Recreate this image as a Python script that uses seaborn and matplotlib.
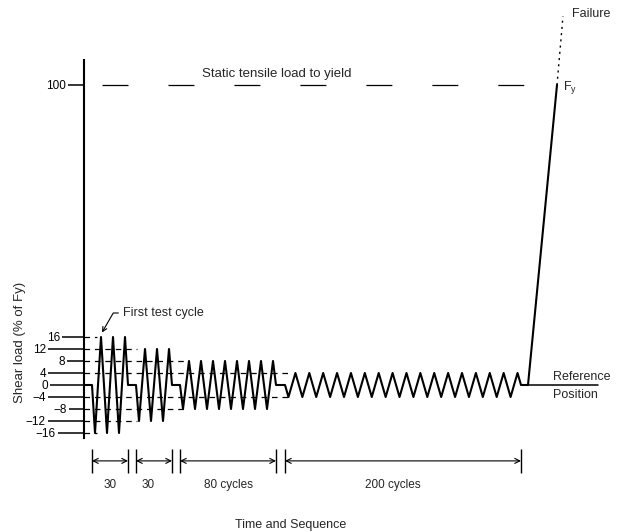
import numpy as np
import pandas as pd
import matplotlib
matplotlib.use("Agg")
import matplotlib.pyplot as plt
import seaborn as sns

# ---- data -------------------------------------------------------------
yticks = [100, 16, 12, 8, 4, 0, -4, -8, -12, -16]
block_amp = [16, 12, 8, 4]               # % of Fy
block_start = [8, 52, 96, 201]            # time units
block_end = [44, 88, 192, 437]
block_cycles_drawn = [3, 3, 8, 17]
block_labels = ["30", "30", "80 cycles", "200 cycles"]
guide_end = [13, 53, 101, 206]            # extent of the dashed guide lines
rise_start = 444
fy_time, fy_level = 473, 100
fail_time, fail_level = 479, 123
reference_end = 514
static_start, static_end = 18, 453
static_level = 100

# ---- styling (not data) -------------------------------------------------
tick_len_px = {100: 16, 16: 22, 12: 36, 8: 17, 4: 36, 0: 34,
               -4: 36, -8: 15, -12: 36, -16: 26}
label_x = [26, 64, 145, 309]

# ---- build the schematic load path -----------------------------------
xs, ys = [0], [0]
for a, s, e, n in zip(block_amp, block_start, block_end, block_cycles_drawn):
    p = (e - s) / n
    xs.append(s); ys.append(0)
    for k in range(n):
        xs += [s + k * p + p / 4, s + k * p + 3 * p / 4]
        ys += [-a, a]
    xs.append(e); ys.append(0)
xs += [rise_start, fy_time]
ys += [0, fy_level]
df = pd.DataFrame({"time": xs, "load": ys})

sns.set_theme(style="white")
plt.rcParams["font.family"] = ["Liberation Sans", "DejaVu Sans"]
plt.rcParams["lines.scale_dashes"] = False
plt.rcParams["mathtext.fontset"] = "custom"
plt.rcParams["mathtext.rm"] = "Liberation Sans"

fig = plt.figure(figsize=(6.21, 5.32), dpi=100)
ax = fig.add_axes([0, 0, 1, 1])
ax.set_xlim(-84, 537)
ax.set_ylim(-49, 128.33)

sns.lineplot(data=df, x="time", y="load", sort=False, estimator=None,
             color="black", lw=1.5, ax=ax)

# reference line and failure extension
ax.plot([rise_start, reference_end], [0, 0], color="black", lw=1.1)
ax.plot([fy_time, fail_time], [fy_level, fail_level], color="black",
        lw=1.0, ls=(0, (1.5, 3)))

# static tensile load line
ax.plot([static_start, static_end], [static_level, static_level],
        color="black", lw=0.9, ls=(0, (18.7, 28.8)))

# dashed guide lines
for a, ge in zip(block_amp, guide_end):
    for lev in (a, -a):
        ax.plot([0, ge], [lev, lev], color="black", lw=0.9, ls=(0, (4, 3.5)))

# spines / ticks
for sp in ["top", "right", "bottom"]:
    ax.spines[sp].set_visible(False)
ax.spines["left"].set_position(("data", 0))
ax.spines["left"].set_bounds(-17.7, 108.3)
ax.spines["left"].set_linewidth(1.5)
ax.spines["left"].set_color("black")
ax.set_xticks([])
ax.set_yticks(yticks)
ax.set_yticklabels([str(t).replace("-", "\u2212") for t in yticks])
ax.tick_params(axis="y", direction="out", length=11, width=1.1,
               labelsize=8.5, pad=2, colors="black", left=True)
for t, tk in zip(yticks, ax.yaxis.get_major_ticks()):
    L = tick_len_px[t] * 0.72
    tk.tick1line.set_markersize(L)
    tk.set_pad(1.5)
    tk.label1.set_x(0)
fig.canvas.draw()
for t, tk in zip(yticks, ax.yaxis.get_major_ticks()):
    L = tick_len_px[t] * 0.72
    tk._apply_params(size=L, pad=1.5)
ax.set_xlabel("")
ax.set_ylabel("")

# dimension arrows
ya = -25.3
for s, e, lab, lx in zip(block_start, block_end, block_labels, label_x):
    ax.vlines([s, e], -21.5, -29.5, color="black", lw=1.0)
    ax.annotate("", xy=(e, ya), xytext=(s, ya),
                arrowprops=dict(arrowstyle="<->", lw=0.8, color="black",
                                shrinkA=0, shrinkB=0, mutation_scale=9))
    ax.text(lx, -33.3, lab, ha="center", va="center", fontsize=8.5)

# texts
ax.text(207, -46.7, "Time and Sequence", ha="center", va="center", fontsize=9)
ax.text(-64, 14.3, "Shear load (% of Fy)", rotation=90, ha="center",
        va="center", fontsize=9.5)
ax.text(193, 103.8, "Static tensile load to yield", ha="center", va="center",
        fontsize=9.5)
ax.annotate("First test cycle", xy=(18, 17.5), xytext=(39, 24),
            fontsize=9, va="center", ha="left",
            arrowprops=dict(arrowstyle="->", lw=0.8, color="black",
                            shrinkA=1, shrinkB=0, mutation_scale=8,
                            connectionstyle="angle,angleA=180,angleB=60,rad=0"))
ax.text(479, 99.3, r"F$_\mathrm{y}$", ha="left", va="center", fontsize=9)
ax.text(488, 123.7, "Failure", ha="left", va="center", fontsize=9)
ax.text(469, 2.7, "Reference", ha="left", va="center", fontsize=9)
ax.text(469, -3.3, "Position", ha="left", va="center", fontsize=9)

fig.savefig("out.png", dpi=100)
